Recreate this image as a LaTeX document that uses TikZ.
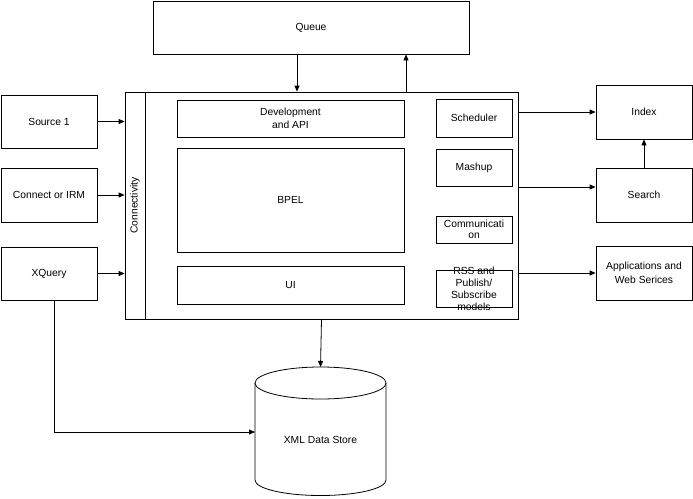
\documentclass[tikz,border=0pt]{standalone}
\usepackage{fontspec}
\setmainfont{Liberation Sans}
\usetikzlibrary{arrows.meta}
\begin{document}
\begin{tikzpicture}[x=1pt, y=-1pt,
    caja/.style={draw, line width=0.8pt, inner sep=0pt, align=center},
    flecha/.style={line width=0.8pt, -{Triangle[length=6pt,width=5pt]}},
    font=\fontsize{10.3}{13}\selectfont]
        % Marco de la imagen
        \useasboundingbox (0,0) rectangle (693,498);

        % Cola arriba
        \node[caja, minimum width=316pt, minimum height=53pt] (queue) at (311,27.5) {Queue};

        % Caja principal y franja de conectividad
        \node[caja, minimum width=393pt, minimum height=227pt] (main) at (321.5,205.5) {};
        \node[caja, rotate=90, minimum width=227pt, minimum height=20pt] (conn) at (135,205.5) {Connectivity};

        % Bloques internos
        \node[caja, minimum width=227pt, minimum height=37pt] (dev) at (290.5,118.5) {Development\\and API};
        \node[caja, minimum width=227pt, minimum height=104pt] (bpel) at (290.5,200) {BPEL};
        \node[caja, minimum width=227pt, minimum height=38pt] (ui) at (290.5,285) {UI};
        \node[caja, minimum width=76pt, minimum height=38pt] (sched) at (474,118) {Scheduler};
        \node[caja, minimum width=76pt, minimum height=37pt] (mashup) at (474,167.5) {Mashup};
        \node[caja, minimum width=76pt, minimum height=27pt, font=\fontsize{10.3}{11}\selectfont] (comm) at (474,229.5) {Communicati\\on};
        \node[caja, minimum width=76pt, minimum height=37pt] (rss) at (474,288.5) {};
        \node[align=center, inner sep=0pt, font=\fontsize{10.3}{12}\selectfont] (rsstxt) at (474,289) {RSS and\\Publish/\\Subscribe\\models};

        % Fuentes a la izquierda
        \node[caja, minimum width=96pt, minimum height=53pt] (src) at (49,121.5) {Source 1};
        \node[caja, minimum width=96pt, minimum height=54pt] (cirm) at (49,195) {Connect or IRM};
        \node[caja, minimum width=96pt, minimum height=53pt] (xq) at (49,273.5) {XQuery};

        % Destinos a la derecha
        \node[caja, minimum width=96pt, minimum height=54pt] (index) at (644,112) {Index};
        \node[caja, minimum width=96pt, minimum height=54pt] (search) at (644,195) {Search};
        \node[caja, minimum width=96pt, minimum height=54pt, font=\fontsize{10.3}{14}\selectfont] (apps) at (644,273) {Applications and\\Web Serices};

        % Almacen XML (cilindro)
        \draw[line width=0.8pt] (255,383) -- (255,480)
            .. controls (255,488.6) and (284.3,495.5) .. (320.5,495.5)
            .. controls (356.7,495.5) and (386,488.6) .. (386,480) -- (386,383);
        \draw[line width=0.8pt] (320.5,383) ellipse [x radius=65.5, y radius=16];
        \coordinate (storetop) at (320.5,367);
        \coordinate (storeleft) at (255,432);
        \node (store) at (320.5,440) {XML Data Store};

        % Flechas de entrada
        \draw[flecha] (src.east) -- (src.east -| main.west);
        \draw[flecha] (cirm.east) -- (cirm.east -| main.west);
        \draw[flecha] (xq.east) -- (xq.east -| main.west);

        % Flechas de salida
        \draw[flecha] (main.east |- index.west) -- (index.west);
        \draw[flecha] ([yshift=8pt]search.west -| main.east) -- ([yshift=8pt]search.west);
        \draw[flecha] (main.east |- apps.west) -- (apps.west);
        \draw[flecha] (search) -- (index);

        % Cola
        \draw[flecha] ([xshift=-14pt]queue.south) -- ([xshift=-14pt]queue.south |- main.north);
        \draw[flecha] ([xshift=95pt]queue.south |- main.north) -- ([xshift=95pt]queue.south);

        % Hacia el almacen
        \draw[flecha] (main.south) -- (storetop);
        \draw[flecha] ([xshift=5pt]xq.south) |- (storeleft);
    \end{tikzpicture}
\end{document}
